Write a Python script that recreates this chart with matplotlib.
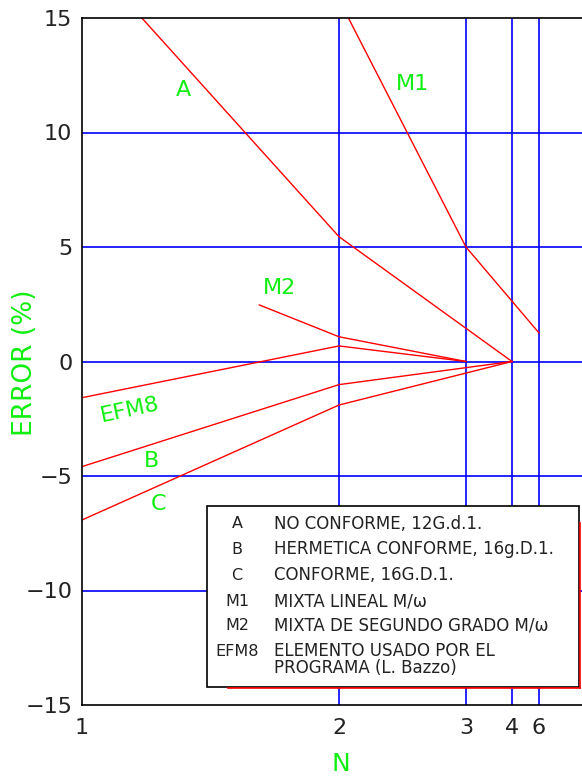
import matplotlib
matplotlib.use('Agg')
import matplotlib.pyplot as plt
from matplotlib.patches import Rectangle
from matplotlib.lines import Line2D
import numpy as np

# ---- data ----
N_TICKS = [1, 2, 3, 4, 6]
N_POS = [0.0, 1.0, 1.494, 1.673, 1.778]   # horizontal placement of the N ticks (non-uniform scale)
Y_TICKS = [15, 10, 5, 0, -5, -10, -15]
Y_GRID = [10, 5, 0, -5, -10]
X_GRID_N = [2, 3, 4, 6]

A_N = [1, 2, 4];        A_ERR = [17.9, 5.45, 0.0]
M1_N = [2, 3, 6];       M1_ERR = [15.8, 5.0, 1.25]
M2_N = [1.69, 2, 3];    M2_ERR = [2.47, 1.08, 0.0]
EFM8_N = [1, 2, 3];     EFM8_ERR = [-1.58, 0.68, 0.0]
B_N = [1, 2, 4];        B_ERR = [-4.59, -1.01, 0.0]
C_N = [1, 2, 4];        C_ERR = [-6.92, -1.90, 0.0]

LEGEND_KEYS = ['A', 'B', 'C', 'M1', 'M2', 'EFM8']
LEGEND_TEXT = ['NO CONFORME, 12G.d.1.',
               'HERMETICA CONFORME, 16g.D.1.',
               'CONFORME, 16G.D.1.',
               'MIXTA LINEAL M/\u03c9',
               'MIXTA DE SEGUNDO GRADO M/\u03c9',
               'ELEMENTO USADO POR EL',
               'PROGRAMA (L. Bazzo)']

W, H = 582, 778
GREEN = '#11ee11'
RED = '#ff0000'
BLUE = '#0000ff'
DARK = '#222222'

fig = plt.figure(figsize=(W / 100, H / 100), dpi=100)


def fx(px):
    return px / W


def fy(py):
    return 1 - py / H


ax = fig.add_axes([fx(82), fy(705), fx(584) - fx(82), fy(18) - fy(705)])
ax.set_xlim(0, (584 - 82) / 257)
ax.set_ylim(-15, 15)


def npos(n):
    return np.interp(n, N_TICKS, N_POS)


for y in Y_GRID:
    ax.axhline(y, color=BLUE, lw=1.2, zorder=1)
for n in X_GRID_N:
    ax.axvline(npos(n), color=BLUE, lw=1.2, zorder=1)

for ns, es in [(A_N, A_ERR), (M1_N, M1_ERR), (M2_N, M2_ERR),
               (EFM8_N, EFM8_ERR), (B_N, B_ERR), (C_N, C_ERR)]:
    ax.plot(npos(ns), es, color=RED, lw=1.0, zorder=2)

for s in ['left', 'top', 'bottom']:
    ax.spines[s].set_color('black')
    ax.spines[s].set_linewidth(1.2)
ax.spines['right'].set_visible(False)

ax.set_xticks(npos(N_TICKS))
ax.set_xticklabels([str(n) for n in N_TICKS])
ax.set_yticks(Y_TICKS)
ax.set_yticklabels([('\u2212' if v < 0 else '') + str(abs(v)) for v in Y_TICKS])
ax.tick_params(axis='both', length=0, labelsize=16, colors=DARK)
ax.tick_params(axis='y', pad=7)
ax.tick_params(axis='x', pad=9)

# axis titles
fig.text(fx(25), fy(363), 'ERROR (%)', rotation=90, color=GREEN, fontsize=19,
         ha='center', va='center')
fig.text(fx(341), fy(764), 'N', color=GREEN, fontsize=18, ha='center', va='center')

# curve labels
for txt, px, py, rot in [('A', 183, 89.5, 0), ('M1', 412, 83.5, 0), ('M2', 279.5, 288.5, 0),
                         ('EFM8', 130, 410, 12), ('B', 151.5, 461, 0), ('C', 158, 504, 0)]:
    fig.text(fx(px), fy(py), txt, color=GREEN, fontsize=16, rotation=rot,
             ha='center', va='center')

# legend box
box = Rectangle((fx(207), fy(687)), fx(579) - fx(207), fy(506) - fy(687),
                transform=fig.transFigure, facecolor='white', edgecolor='black',
                lw=1.2, zorder=5)
fig.add_artist(box)
fig.add_artist(Line2D([fx(228), fx(580)], [fy(688), fy(688)], transform=fig.transFigure,
                      color=RED, lw=1.2, zorder=6))
fig.add_artist(Line2D([fx(580), fx(580)], [fy(523), fy(688)], transform=fig.transFigure,
                      color=RED, lw=1.2, zorder=6))

key_y = [524, 549, 575, 601, 626, 651]
for k, yy in zip(LEGEND_KEYS, key_y):
    fig.text(fx(237), fy(yy), k, fontsize=11.5, color=DARK, ha='center', va='center', zorder=7)
text_y = [524, 549, 575, 601, 626, 651, 668]
for t, yy in zip(LEGEND_TEXT, text_y):
    fig.text(fx(274), fy(yy), t, fontsize=12, color=DARK, ha='left', va='center', zorder=7)

fig.savefig('out.png', dpi=100)
